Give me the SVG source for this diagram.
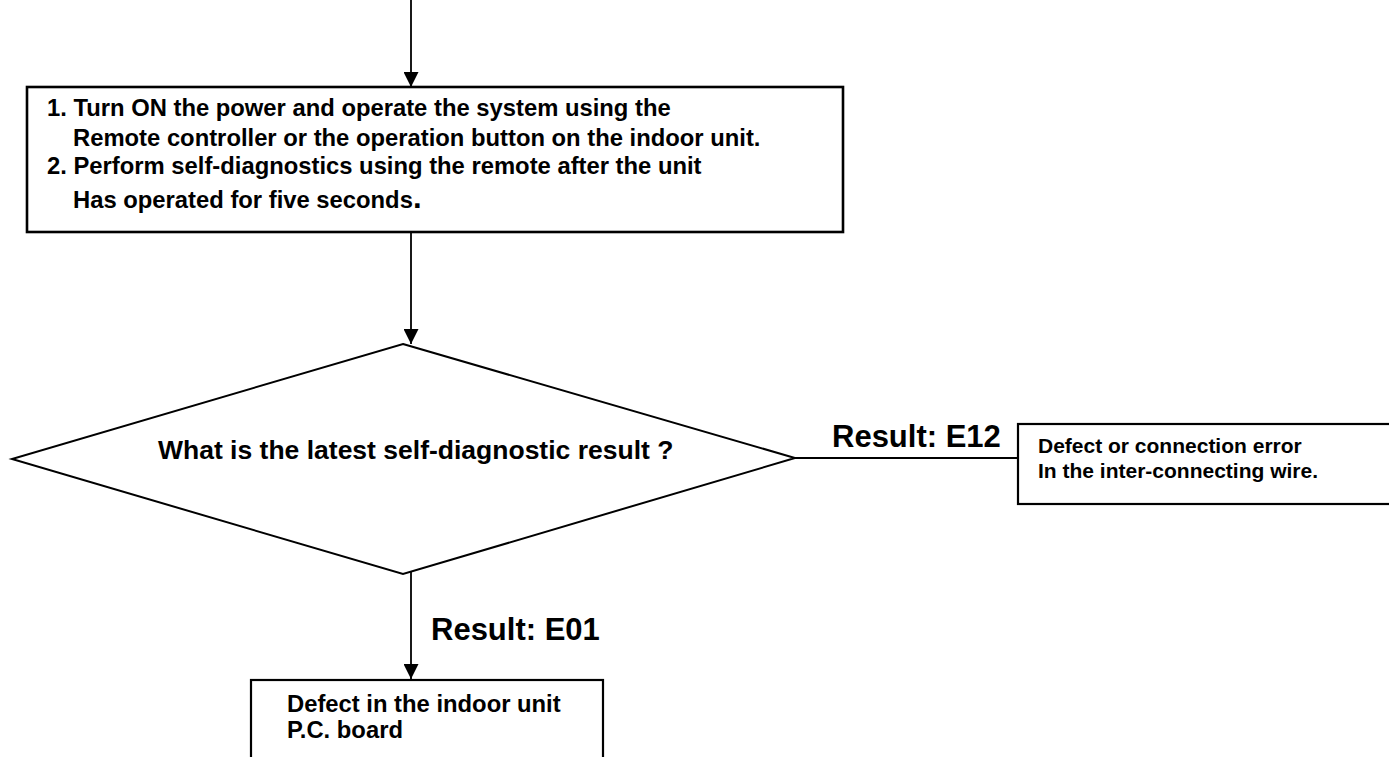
<svg xmlns="http://www.w3.org/2000/svg" width="1389" height="757" viewBox="0 0 1389 757">
<style>
.box{fill:#fff;stroke:#000;stroke-width:2.2}
.box2{fill:#fff;stroke:#000;stroke-width:2.6}
.dia{fill:#fff;stroke:#000;stroke-width:2}
.ln{fill:none;stroke:#000;stroke-width:1.8}
.t{font-family:"Liberation Sans",Arial,sans-serif;font-weight:bold;fill:#000}
.big{font-size:31px}
</style>
<defs>
<marker id="ah" viewBox="0 0 10 10" refX="10" refY="5" markerUnits="userSpaceOnUse" markerWidth="15" markerHeight="15" orient="auto">
<path d="M0,0 L10,5 L0,10 z" fill="#000"/>
</marker>
</defs>
<g id="connectors">
<line class="ln" x1="411" y1="0" x2="411" y2="87" marker-end="url(#ah)"/>
<line class="ln" x1="411" y1="232" x2="411" y2="344" marker-end="url(#ah)"/>
<line class="ln" x1="795" y1="458" x2="1018" y2="458"/>
<line class="ln" x1="411" y1="567" x2="411" y2="679" marker-end="url(#ah)"/>
<text class="t big" x="832" y="447">Result: E12</text>
<text class="t big" x="431" y="640">Result: E01</text>
</g>
<g id="step1">
<rect class="box2" x="27" y="87" width="816" height="145"/>
<text class="t" font-size="23.8" x="47" y="116">1. Turn ON the power and operate the system using the</text>
<text class="t" font-size="23.8" x="73" y="146">Remote controller or the operation button on the indoor unit.</text>
<text class="t" font-size="23.8" x="47" y="174">2. Perform self-diagnostics using the remote after the unit</text>
<text class="t" font-size="23.8" x="73" y="208">Has operated for five seconds<tspan font-size="31">.</tspan></text>
</g>
<g id="decision">
<polygon class="dia" points="403,344 795,458 403,574 12,459"/>
<text class="t" font-size="26.5" x="158" y="459">What is the latest self-diagnostic result ?</text>
</g>
<g id="e12">
<rect class="box" x="1018" y="424" width="380" height="80"/>
<text class="t" font-size="21" x="1038" y="453">Defect or connection error</text>
<text class="t" font-size="21" x="1038" y="478">In the inter-connecting wire.</text>
</g>
<g id="e01">
<rect class="box" x="251" y="680" width="352" height="100"/>
<text class="t" font-size="23.8" x="287" y="712">Defect in the indoor unit</text>
<text class="t" font-size="23.8" x="287" y="738">P.C. board</text>
</g>
</svg>
